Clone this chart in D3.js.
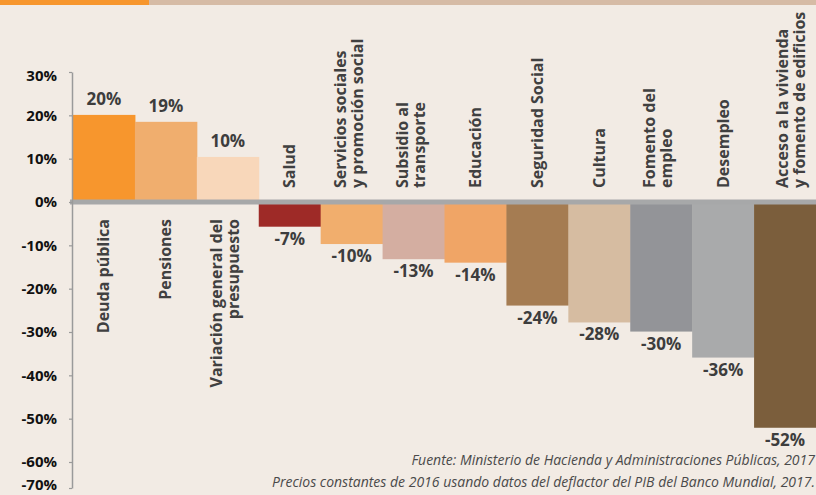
<!DOCTYPE html>
<html>
<head>
<meta charset="utf-8">
<script src="https://cdn.jsdelivr.net/npm/d3@7"></script>
<style>
  html, body { margin: 0; padding: 0; background: #f2ebe4; }
  svg { display: block; }
  text { font-family: "Open Sans", "Noto Sans", sans-serif; }
</style>
</head>
<body>
<svg id="chart" width="816" height="495"></svg>
<script>
// ---- data ----
const categories = [
  "Deuda pública",
  "Pensiones",
  "Variación general del\npresupuesto",
  "Salud",
  "Servicios sociales\ny promoción social",
  "Subsidio al\ntransporte",
  "Educación",
  "Seguridad Social",
  "Cultura",
  "Fomento del\nempleo",
  "Desempleo",
  "Acceso a la vivienda\ny fomento de edificios"
];
const values = [20.1, 18.5, 10.4, -5.7, -9.7, -13.2, -14.0, -23.9, -27.8, -29.9, -35.9, -52.1];
const valueLabels = ["20%", "19%", "10%", "-7%", "-10%", "-13%", "-14%", "-24%", "-28%", "-30%", "-36%", "-52%"];
const yTicks = [30, 20, 10, 0, -10, -20, -30, -40, -50, -60, -70];
const sourceLines = [
  "Fuente: Ministerio de Hacienda y Administraciones Públicas, 2017",
  "Precios constantes de 2016 usando datos del deflactor del PIB del Banco Mundial, 2017."
];

// ---- styles ----
const barColors = ["#f7962d", "#f0ae6e", "#f8d7ba", "#9e2a27", "#f1ae6d", "#d4aea1",
                   "#f0a566", "#a57c52", "#d6bca1", "#939498", "#a9aaab", "#7b5e3c"];
const labelNudge = { 11: 9 };  // horizontal nudge (px) of the last category label

const svg = d3.select("#chart");
const W = 816, H = 495;

// top header strip
svg.append("rect").attr("x", 0).attr("y", 0).attr("width", W).attr("height", 5).attr("fill", "#d6bba5");
svg.append("rect").attr("x", 0).attr("y", 0).attr("width", 149).attr("height", 5).attr("fill", "#f7962d");

const x = d3.scaleBand().domain(d3.range(categories.length)).range([73, 816]).padding(0);
const y = d3.scaleLinear().domain([-66, 30]).range([488, 72]).clamp(true);

// bars
svg.append("g").selectAll("rect").data(values).join("rect")
  .attr("x", (d, i) => x(i))
  .attr("width", x.bandwidth() + 0.5)
  .attr("y", d => Math.min(y(d), y(0)))
  .attr("height", d => Math.abs(y(d) - y(0)))
  .attr("fill", (d, i) => barColors[i]);

// zero band
svg.append("rect")
  .attr("x", 70).attr("y", y(0) - 2.5)
  .attr("width", W - 70).attr("height", 5)
  .attr("fill", "#a7a8a9");

// y axis
const yAxis = svg.append("g")
  .attr("transform", "translate(72,0)")
  .call(d3.axisLeft(y).tickValues(yTicks).tickFormat(d => d + "%").tickSize(3).tickSizeOuter(0).tickPadding(12));
yAxis.select(".domain").attr("stroke", "#9a9a9a").attr("stroke-width", 1.5);
yAxis.selectAll(".tick line").attr("stroke", "#9a9a9a").attr("stroke-width", 1.2);
yAxis.selectAll(".tick text")
  .attr("fill", "#111")
  .attr("dy", d => d === yTicks[0] ? "0.55em" : d === yTicks[yTicks.length - 1] ? "0.12em" : "0.32em")
  .style("font-family", "'Open Sans', sans-serif")
  .style("font-weight", "700")
  .style("font-size", "15px");

// value labels
svg.append("g").selectAll("text").data(values).join("text")
  .attr("x", (d, i) => x(i) + x.bandwidth() / 2)
  .attr("y", d => d >= 0 ? y(d) - 10 : y(d) + 18)
  .attr("text-anchor", "middle")
  .attr("fill", "#3d3d3d")
  .style("font-weight", "700")
  .style("font-size", "17px")
  .text((d, i) => valueLabels[i]);

// category labels (rotated)
const catG = svg.append("g").selectAll("text").data(categories).join("text")
  .attr("transform", (d, i) => {
    const cx = x(i) + x.bandwidth() / 2 + (labelNudge[i] || 0);
    const ay = values[i] >= 0 ? y(0) + 17 : y(0) - 14;
    return `translate(${cx},${ay}) rotate(-90)`;
  })
  .attr("text-anchor", (d, i) => values[i] >= 0 ? "end" : "start")
  .attr("fill", "#404040")
  .style("font-weight", "700")
  .style("font-size", "16px");
catG.each(function(d) {
  const lines = d.split("\n");
  const offs = lines.length === 1 ? [5.5] : [-6, 11];
  d3.select(this).selectAll("tspan").data(lines).join("tspan")
    .attr("x", 0)
    .attr("y", (l, j) => offs[j])
    .text(l => l);
});

// source note
svg.append("g").selectAll("text").data(sourceLines).join("text")
  .attr("x", 815)
  .attr("y", (d, i) => 465 + i * 22)
  .attr("text-anchor", "end")
  .attr("fill", "#4a4a4a")
  .style("font-style", "italic")
  .style("font-size", "14px")
  .text(d => d);
</script>
</body>
</html>
